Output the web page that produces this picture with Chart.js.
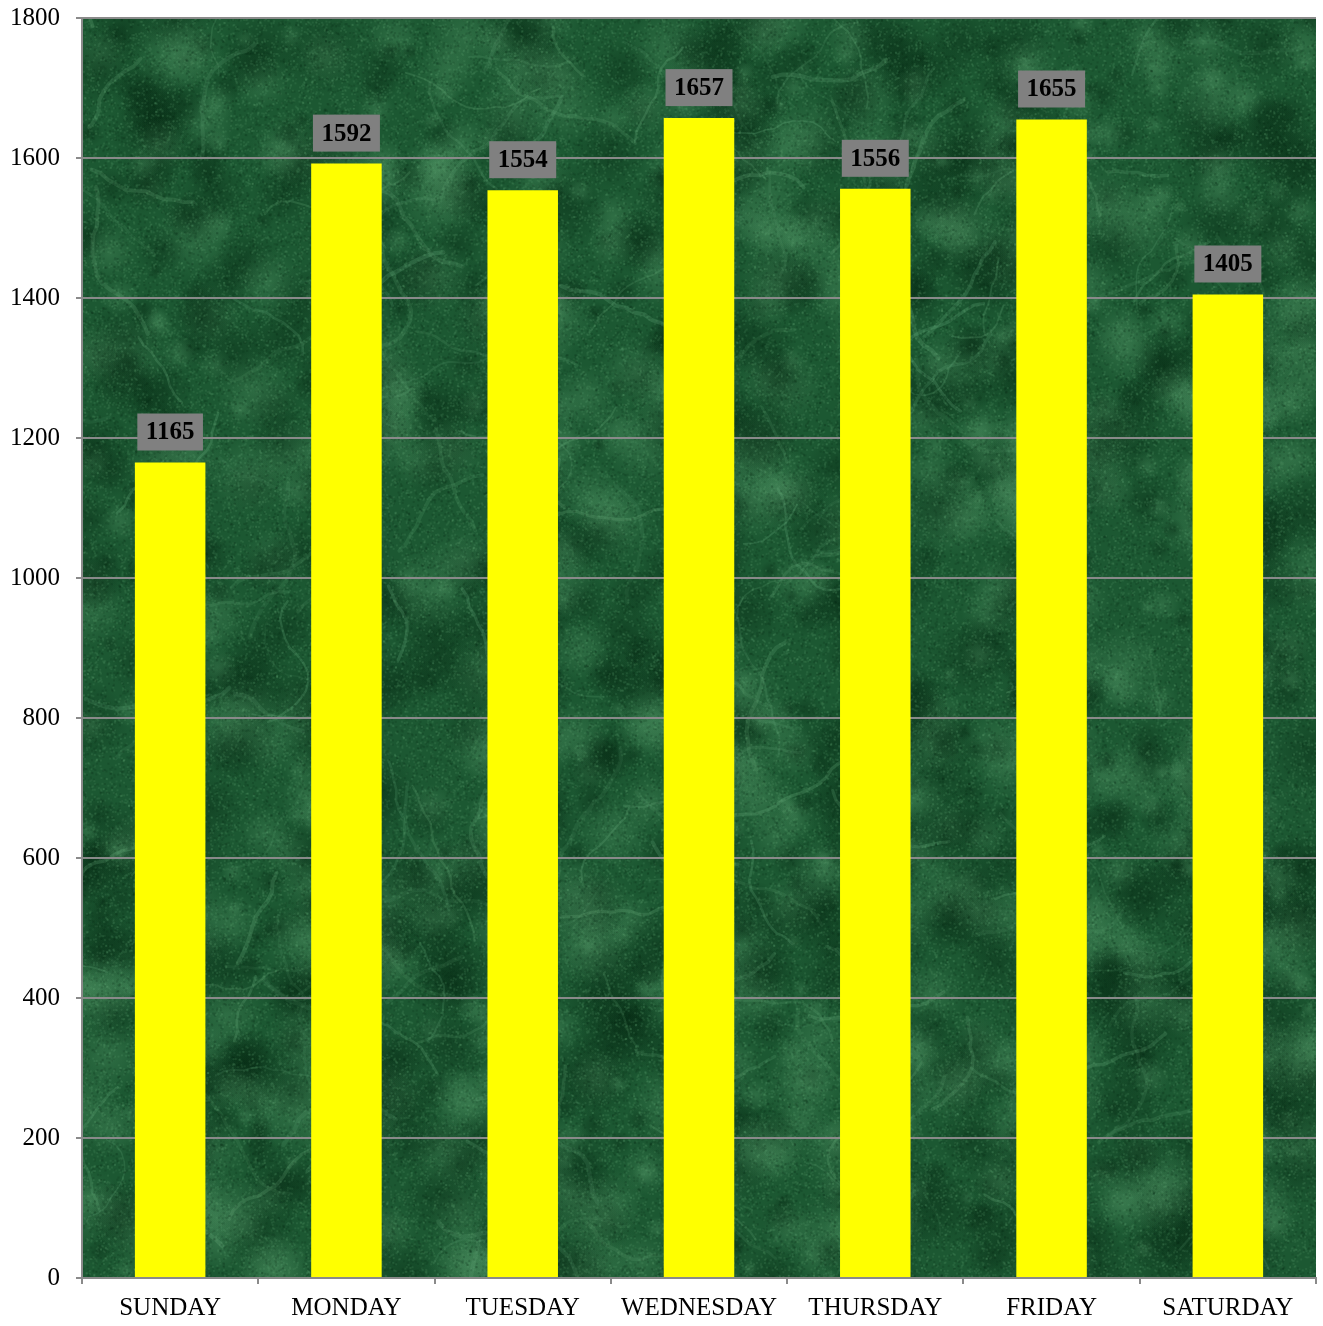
<!DOCTYPE html>
<html lang="en">
<head>
    <meta charset="UTF-8">
    <title>Visits by Day of Week</title>
    <script src="https://cdn.jsdelivr.net/npm/chart.js@4.4.0/dist/chart.umd.min.js"></script>
    <style>
        html, body { margin: 0; padding: 0; background: #ffffff; }
        #wrap { width: 1323px; height: 1326px; }
    </style>
</head>
<body>
<div id="wrap"><canvas id="dayChart" width="1323" height="1326"></canvas></div>
<script>
// Data
const days = ['SUNDAY', 'MONDAY', 'TUESDAY', 'WEDNESDAY', 'THURSDAY', 'FRIDAY', 'SATURDAY'];
const counts = [1165, 1592, 1554, 1657, 1556, 1655, 1405];
const yTicks = [0, 200, 400, 600, 800, 1000, 1200, 1400, 1600, 1800];

const gridGrey = '#8a8a8a';
const serif = '"Liberation Serif", "Times New Roman", serif';

// green marble background for the plot area (decorative only)
function makeMarble(w, h) {
    const c = document.createElement('canvas');
    c.width = w; c.height = h;
    const g = c.getContext('2d');
    g.fillStyle = '#1c5832';
    g.fillRect(0, 0, w, h);
    let seed = 12345;
    const rnd = () => {
        seed |= 0; seed = seed + 0x6D2B79F5 | 0;
        let t = Math.imul(seed ^ seed >>> 15, 1 | seed);
        t = t + Math.imul(t ^ t >>> 7, 61 | t) ^ t;
        return ((t ^ t >>> 14) >>> 0) / 4294967296;
    };
    // dark and light clouds
    for (let i = 0; i < 1500; i++) {
        const x = rnd() * w, y = rnd() * h, r = 8 + rnd() * 35;
        const light = rnd() > 0.55;
        const grad = g.createRadialGradient(x, y, 0, x, y, r);
        grad.addColorStop(0, light ? 'rgba(90,160,110,0.3)' : 'rgba(5,40,18,0.4)');
        grad.addColorStop(1, light ? 'rgba(90,160,110,0)' : 'rgba(5,40,18,0)');
        g.fillStyle = grad;
        g.beginPath(); g.arc(x, y, r, 0, Math.PI * 2); g.fill();
    }
    // veins
    g.lineCap = 'round';
    for (let i = 0; i < 220; i++) {
        let x = rnd() * w, y = rnd() * h;
        let a = rnd() * Math.PI * 2;
        g.strokeStyle = 'rgba(120,190,140,' + (0.08 + rnd() * 0.14) + ')';
        g.lineWidth = 1.5 + rnd() * 3;
        g.beginPath(); g.moveTo(x, y);
        const steps = 6 + Math.floor(rnd() * 12);
        for (let s = 0; s < steps; s++) {
            a += (rnd() - 0.5) * 0.9;
            x += Math.cos(a) * 10; y += Math.sin(a) * 10;
            g.lineTo(x, y);
        }
        g.stroke();
    }
    // fine mottling
    for (let i = 0; i < 160000; i++) {
        const x = rnd() * w, y = rnd() * h;
        g.fillStyle = rnd() > 0.45 ? 'rgba(100,170,120,0.16)' : 'rgba(5,40,18,0.16)';
        g.fillRect(x, y, 2, 2);
    }
    return c;
}

let marble = null;
const marbleBg = {
    id: 'marbleBg',
    beforeDraw(chart) {
        const a = chart.chartArea;
        if (!marble) marble = makeMarble(Math.ceil(a.right - a.left), Math.ceil(a.bottom - a.top));
        chart.ctx.drawImage(marble, a.left, a.top);
    }
};

// grey value boxes above bars
const valueBoxes = {
    id: 'valueBoxes',
    afterDatasetsDraw(chart) {
        const ctx = chart.ctx;
        const meta = chart.getDatasetMeta(0);
        ctx.save();
        ctx.font = 'bold 25px ' + serif;
        ctx.textAlign = 'center';
        ctx.textBaseline = 'middle';
        meta.data.forEach((bar, i) => {
            const txt = String(counts[i]);
            const w = ctx.measureText(txt).width + 17;
            const h = 37;
            const bottom = bar.y - 12;
            ctx.fillStyle = '#808080';
            ctx.fillRect(bar.x - w / 2, bottom - h, w, h);
            ctx.fillStyle = '#000000';
            ctx.fillText(txt, bar.x, bottom - h / 2 + 1);
        });
        ctx.restore();
    }
};

new Chart(document.getElementById('dayChart').getContext('2d'), {
    type: 'bar',
    data: {
        labels: days,
        datasets: [{
            data: counts,
            backgroundColor: '#ffff00',
            borderWidth: 0,
            categoryPercentage: 1.0,
            barPercentage: 0.4
        }]
    },
    options: {
        responsive: false,
        animation: false,
        layout: { padding: { top: 18, right: 7, left: 0, bottom: 0 } },
        plugins: {
            legend: { display: false },
            tooltip: { enabled: false }
        },
        scales: {
            x: {
                grid: {
                    display: true,
                    drawOnChartArea: false,
                    offset: true,
                    color: gridGrey,
                    tickLength: 6,
                    lineWidth: 2
                },
                border: { color: gridGrey, width: 2 },
                ticks: {
                    color: '#000000',
                    font: { family: serif, size: 25 },
                    padding: 9,
                    maxRotation: 0,
                    autoSkip: false
                },
                afterFit(scale) {
                    scale.height = 48;
                    scale.paddingLeft = 0;
                    scale.paddingRight = 0;
                }
            },
            y: {
                min: 0,
                max: 1800,
                afterBuildTicks(scale) { scale.ticks = yTicks.map(v => ({ value: v })); },
                grid: {
                    color: gridGrey,
                    lineWidth: 2,
                    tickLength: 6
                },
                border: { color: gridGrey, width: 2 },
                ticks: {
                    color: '#000000',
                    font: { family: serif, size: 25 },
                    padding: 16,
                    callback: v => String(v)
                },
                afterFit(scale) {
                    scale.width = 82;
                    scale.paddingTop = 0;
                    scale.paddingBottom = 0;
                }
            }
        }
    },
    plugins: [marbleBg, valueBoxes]
});
</script>
</body>
</html>
